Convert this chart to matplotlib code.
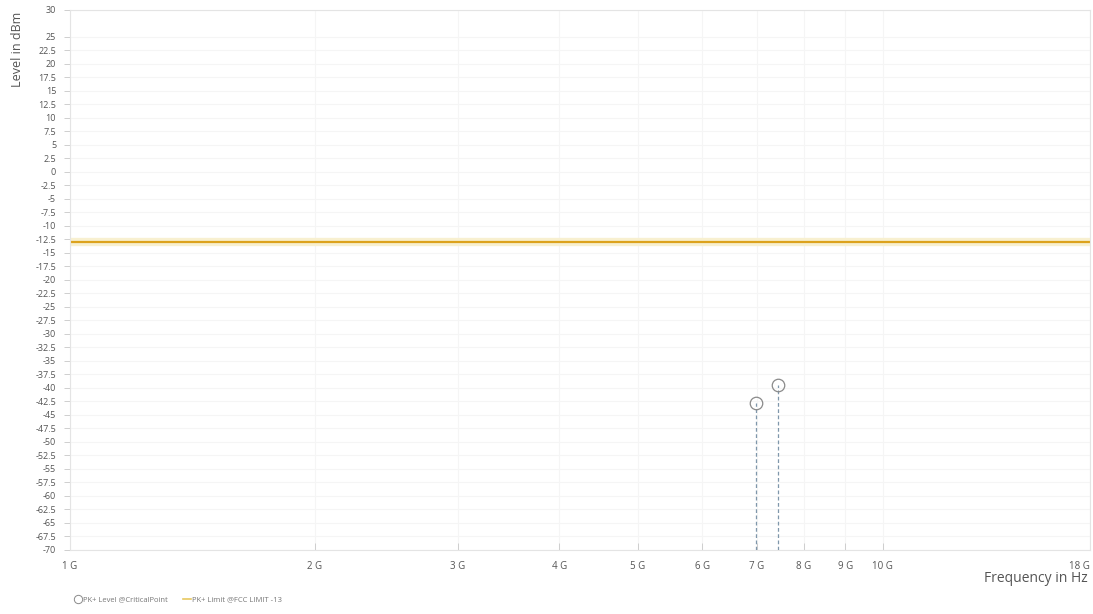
import matplotlib
matplotlib.use("Agg")
import matplotlib.pyplot as plt
from matplotlib.lines import Line2D
import numpy as np

plt.rcParams['font.family'] = ['Open Sans', 'DejaVu Sans']

# Data
peak_freqs_hz = [6.99e9, 7.43e9]
peak_levels_dbm = [-42.8, -39.4]
limit_level_dbm = -13
x_tick_values = [1e9, 2e9, 3e9, 4e9, 5e9, 6e9, 7e9, 8e9, 9e9, 10e9, 18e9]
x_tick_labels = ["1 G", "2 G", "3 G", "4 G", "5 G", "6 G", "7 G", "8 G", "9 G", "10 G", "18 G"]
y_tick_values = [30, 25, 22.5, 20, 17.5, 15, 12.5, 10, 7.5, 5, 2.5, 0, -2.5, -5, -7.5, -10,
                 -12.5, -15, -17.5, -20, -22.5, -25, -27.5, -30, -32.5, -35, -37.5, -40,
                 -42.5, -45, -47.5, -50, -52.5, -55, -57.5, -60, -62.5, -65, -67.5, -70]
y_tick_labels = ["30", "25", "22.5", "20", "17.5", "15", "12.5", "10", "7.5", "5", "2.5", "0",
                 "-2.5", "-5", "-7.5", "-10", "-12.5", "-15", "-17.5", "-20", "-22.5", "-25",
                 "-27.5", "-30", "-32.5", "-35", "-37.5", "-40", "-42.5", "-45", "-47.5", "-50",
                 "-52.5", "-55", "-57.5", "-60", "-62.5", "-65", "-67.5", "-70"]
x_min, x_max = 1e9, 18e9
y_min, y_max = -70, 30

fig = plt.figure(figsize=(10.93, 6.14), dpi=100)
ax = fig.add_axes([70/1093, 1 - 550/614, 1020/1093, 540/614])
ax.set_xscale('log')
ax.set_xlim(x_min, x_max)
ax.set_ylim(y_min, y_max)

# faint grid
for yv in y_tick_values:
    ax.axhline(yv, color='#f5f5f5', lw=0.8, zorder=0)
for xv in x_tick_values:
    ax.axvline(xv, color='#f5f5f5', lw=0.8, zorder=0)

# limit line
ax.axhline(limit_level_dbm, color='#f8f0d0', lw=6, zorder=1)
ax.axhline(limit_level_dbm, color='#dca21c', lw=1.6, zorder=2)

# stems + markers
for f, lvl in zip(peak_freqs_hz, peak_levels_dbm):
    ax.plot([f, f], [y_min, lvl], ls=(0, (3, 2)), color='#7f97ab', lw=0.9, zorder=3)
ax.plot(peak_freqs_hz, peak_levels_dbm, ls='none', marker='o', markersize=9,
        markerfacecolor='none', markeredgecolor='#8a8a8a', markeredgewidth=0.9, zorder=4)

ax.set_xticks(x_tick_values)
ax.set_xticklabels(x_tick_labels)
ax.xaxis.set_minor_locator(matplotlib.ticker.NullLocator())
ax.get_xticklabels()[-1].set_ha('right')
ax.set_yticks(y_tick_values)
ax.set_yticklabels(y_tick_labels)
ax.tick_params(axis='y', labelsize=6.5, colors='#555555', length=4, width=0.6, pad=6,
               color='#c8c8c8')
ax.tick_params(axis='x', labelsize=7, colors='#555555', length=5, width=0.6, pad=8,
               color='#c8c8c8', direction='in')
for s in ax.spines.values():
    s.set_color('#e4e4e4')
    s.set_linewidth(0.8)

fig.text(18/1093, 1 - 12/614, "Level in dBm", rotation=90, ha='center', va='top',
         fontsize=9, color='#555555')
fig.text(1088/1093, 1 - 579/614, "Frequency in Hz", ha='right', va='center',
         fontsize=10, color='#555555')

handles = [
    Line2D([], [], ls='none', marker='o', markerfacecolor='none', markeredgecolor='#8a8a8a',
           markersize=6, markeredgewidth=0.7),
    Line2D([], [], color='#e8c860', lw=1.2),
]
leg = fig.legend(handles, ["PK+ Level @CriticalPoint", "PK+ Limit @FCC LIMIT -13"],
                 loc='center left', bbox_to_anchor=(74/1093, 1 - 600/614), ncol=2,
                 frameon=False, fontsize=5.5, handlelength=1.0, handletextpad=0.2,
                 columnspacing=2.0, borderaxespad=0, borderpad=0)
for t in leg.get_texts():
    t.set_color('#777777')

fig.savefig("out.png", dpi=100)
